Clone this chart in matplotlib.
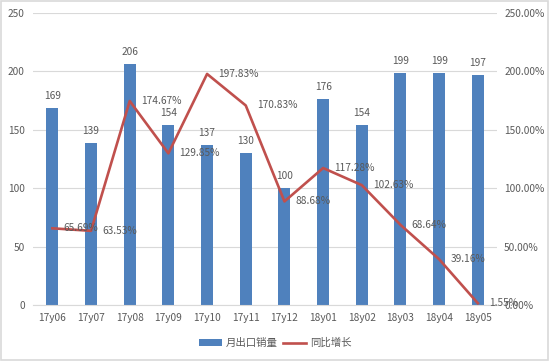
import numpy as np
import matplotlib.pyplot as plt
from matplotlib.ticker import FuncFormatter

plt.rcParams['font.family'] = ['Noto Sans CJK SC', 'DejaVu Sans']

months = ['17y06', '17y07', '17y08', '17y09', '17y10', '17y11', '17y12',
          '18y01', '18y02', '18y03', '18y04', '18y05']
sales = [169, 139, 206, 154, 137, 130, 100, 176, 154, 199, 199, 197]
growth = [65.69, 63.53, 174.67, 129.85, 197.83, 170.83, 88.68,
          117.28, 102.63, 68.64, 39.16, 1.55]

BAR_COLOR = '#4F81BD'
LINE_COLOR = '#C0504D'
TEXT_COLOR = '#595959'

fig = plt.figure(figsize=(5.5, 3.61), dpi=100)
fig.patches.append(plt.Rectangle((0.002, 0.004), 0.995, 0.992, transform=fig.transFigure,
                                 fill=False, edgecolor='#D9D9D9', linewidth=1.2))
ax = fig.add_axes([0.06, 0.155, 0.844, 0.809])
ax2 = ax.twinx()

x = np.arange(len(months))
bars = ax.bar(x, sales, width=0.31, color=BAR_COLOR, label='月出口销量', zorder=2)
ax.set_xlim(-0.5, len(months) - 0.5)
ax.set_ylim(0, 250)
ax.set_yticks(range(0, 251, 50))
ax.grid(axis='y', color='#D9D9D9', linewidth=0.8, zorder=0)
ax.set_axisbelow(True)
for s in ['top', 'right', 'left']:
    ax.spines[s].set_visible(False)
ax.spines['bottom'].set_color('#D9D9D9')
ax.set_xticks(x)
ax.set_xticklabels(months)
ax.tick_params(length=0, labelsize=7.3, colors=TEXT_COLOR)
ax.tick_params(axis='x', pad=6)
ax.tick_params(axis='y', pad=6)

for xi, v in zip(x, sales):
    ax.text(xi, v + 6, str(v), ha='center', va='bottom', fontsize=7.3, color=TEXT_COLOR)

line, = ax2.plot(x, growth, color=LINE_COLOR, linewidth=1.9, label='同比增长', zorder=3)
ax2.set_ylim(0, 250)
ax2.set_yticks(range(0, 251, 50))
ax2.yaxis.set_major_formatter(FuncFormatter(lambda v, p: f'{v:.2f}%'))
for s in ax2.spines.values():
    s.set_visible(False)
ax2.tick_params(length=0, labelsize=7.3, colors=TEXT_COLOR, pad=5)

for xi, v in zip(x, growth):
    ax2.annotate(f'{v:.2f}%', (xi, v), xytext=(8, 0), textcoords='offset points',
                 ha='left', va='center', fontsize=7.3, color=TEXT_COLOR)

fig.legend([bars, line], ['月出口销量', '同比增长'], loc='center', bbox_to_anchor=(0.5, 0.05),
           ncol=2, frameon=False, fontsize=7.5, labelcolor=TEXT_COLOR,
           handlelength=2.2, handleheight=0.6, columnspacing=0.5, handletextpad=0.4)

fig.savefig('out.png', dpi=100)
